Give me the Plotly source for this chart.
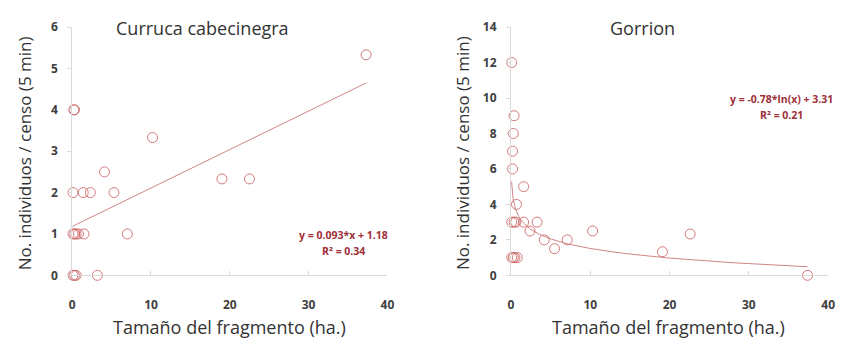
import numpy as np
import plotly.graph_objects as go

# Curruca cabecinegra data
cur_x = [37.3, 10.2, 4.1, 0.2, 0.3, 0.1, 1.4, 2.3, 5.3, 19.0, 22.5, 7.0,
         0.1, 0.3, 0.5, 0.8, 1.5, 0.1, 0.3, 0.5, 3.2]
cur_y = [5.33, 3.33, 2.5, 4, 4, 2, 2, 2, 2, 2.33, 2.33, 1,
         1, 1, 1, 1, 1, 0, 0, 0, 0]
cur_slope, cur_int = 0.093, 1.18

# Gorrion data
gor_x = [0.1, 0.4, 0.3, 0.2, 0.2, 1.6, 0.7, 0.1, 0.4, 0.6, 1.6, 3.3,
         2.4, 4.2, 5.5, 7.1, 10.3, 19.1, 22.6, 37.4, 0.1, 0.3, 0.5, 0.8]
gor_y = [12, 9, 8, 7, 6, 5, 4, 3, 3, 3, 3, 3,
         2.5, 2, 1.5, 2, 2.5, 1.33, 2.33, 0, 1, 1, 1, 1]
gor_a, gor_b = -0.78, 3.31

x_ticks = [0, 10, 20, 30, 40]
cur_yticks = [0, 1, 2, 3, 4, 5, 6]
gor_yticks = [0, 2, 4, 6, 8, 10, 12, 14]

mcol = "rgba(205,100,100,0.85)"
lcol = "rgba(205,120,120,0.9)"
axcol = "#d9d9d9"
font = "Open Sans"
anncol = "#a03038"

fig = go.Figure()
fig.add_trace(go.Scatter(x=cur_x, y=cur_y, mode="markers", xaxis="x", yaxis="y", cliponaxis=False,
                         marker=dict(symbol="circle-open", size=10, color=mcol, line=dict(width=1))))
lx = np.array([0.0, max(cur_x)])
fig.add_trace(go.Scatter(x=lx, y=cur_slope * lx + cur_int, mode="lines", xaxis="x", yaxis="y",
                         line=dict(color=lcol, width=1)))
fig.add_trace(go.Scatter(x=gor_x, y=gor_y, mode="markers", xaxis="x2", yaxis="y2", cliponaxis=False,
                         marker=dict(symbol="circle-open", size=10, color=mcol, line=dict(width=1))))
gx = np.geomspace(0.08, max(gor_x), 200)
fig.add_trace(go.Scatter(x=gx, y=gor_a * np.log(gx) + gor_b, mode="lines", xaxis="x2", yaxis="y2",
                         line=dict(color=lcol, width=1)))

tickfont = dict(family=font, size=12, color="#404040", weight="bold")
xcommon = dict(showgrid=False, zeroline=False, showline=True, linecolor=axcol, linewidth=1,
               ticks="inside", ticklen=4, tickcolor=axcol, tickfont=tickfont, ticklabelstandoff=18)
ycommon = dict(showgrid=False, zeroline=False, showline=True, linecolor=axcol, linewidth=1,
               ticks="outside", ticklen=4, tickcolor=axcol, tickfont=tickfont, ticklabelstandoff=7)

fig.update_layout(
    width=848, height=348, margin=dict(l=0, r=0, t=0, b=0),
    paper_bgcolor="white", plot_bgcolor="white", showlegend=False,
    xaxis=dict(domain=[70/848, 389/848], range=[0, 40], tickvals=x_ticks, anchor="y", **xcommon),
    yaxis=dict(domain=[1-280/348, 1-19/348], range=[0, 6], tickvals=cur_yticks, anchor="x", **ycommon),
    xaxis2=dict(domain=[514/848, 835/848], range=[0, 40], tickvals=x_ticks, anchor="y2", **xcommon),
    yaxis2=dict(domain=[1-280/348, 1-19/348], range=[0, 14], tickvals=gor_yticks, anchor="x2", **ycommon),
)

def ann(x, y, text, size, color="#333333", angle=0, bold=False):
    fig.add_annotation(x=x/848, y=1-y/348, xref="paper", yref="paper", text=text, showarrow=False,
                       textangle=angle, xanchor="center", yanchor="middle",
                       font=dict(family=font, size=size, color=color, weight="bold" if bold else "normal"))

ann(202, 20, "Curruca cabecinegra", 18)
ann(647, 20, "Gorrion", 18)
ann(22, 152, "No. individuos / censo (5 min)", 17, angle=-90)
ann(465, 152, "No. individuos / censo (5 min)", 17, angle=-90)
ann(229, 334, "Tamaño del fragmento (ha.)", 18)
ann(673, 334, "Tamaño del fragmento (ha.)", 18)
ann(345, 238, "y = 0.093*x + 1.18", 10.5, color=anncol, bold=True)
ann(345, 254, "R² = 0.34", 10.5, color=anncol, bold=True)
ann(788, 95, "y = -0.78*ln(x) + 3.31", 10.5, color=anncol, bold=True)
ann(788, 111, "R² = 0.21", 10.5, color=anncol, bold=True)

fig.write_html("out.html")
